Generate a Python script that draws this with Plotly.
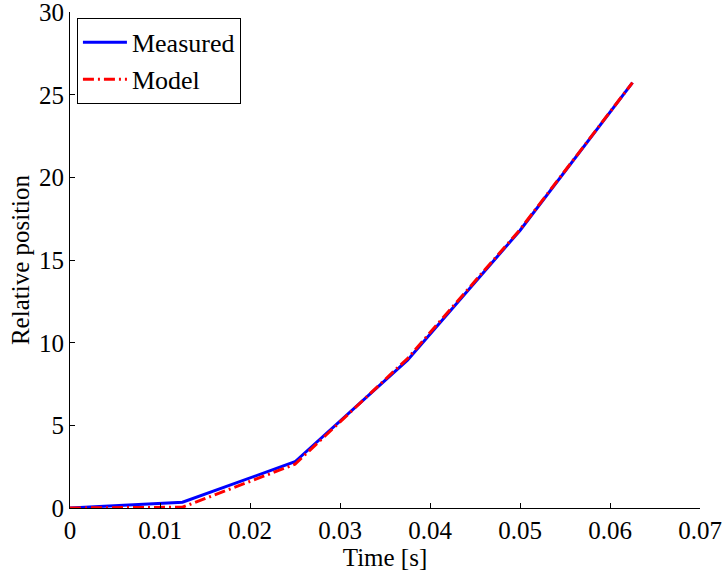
import plotly.graph_objects as go

# Sample times [s]
time_s = [0.0, 0.0125, 0.025, 0.0375, 0.05, 0.0625]
# Relative position: measured vs. model
measured = [0.0, 0.35, 2.8, 8.95, 16.8, 25.75]
model = [0.0, 0.05, 2.65, 9.05, 16.85, 25.75]

x_ticks = [0, 0.01, 0.02, 0.03, 0.04, 0.05, 0.06, 0.07]
x_tick_text = ["0", "0.01", "0.02", "0.03", "0.04", "0.05", "0.06", "0.07"]
y_ticks = [0, 5, 10, 15, 20, 25, 30]
y_tick_text = ["0", "5", "10", "15", "20", "25", "30"]

serif = "Liberation Serif, serif"

fig = go.Figure()
fig.add_trace(go.Scatter(
    x=time_s, y=measured, mode="lines", name="Measured",
    line=dict(color="#0000ff", width=3),
))
fig.add_trace(go.Scatter(
    x=time_s, y=model, mode="lines", name="Model",
    line=dict(color="#ff0000", width=3, dash="11px,4px,2px,4px"),
))

axis_common = dict(
    showgrid=False, zeroline=False, showline=True, linecolor="black",
    linewidth=1, ticks="inside", ticklen=5, tickcolor="black",
    tickfont=dict(family=serif, size=25, color="black"),
    mirror=False, tickmode="array", ticklabeloverflow="allow",
)

fig.update_layout(
    width=725, height=571,
    margin=dict(l=70, r=25, t=12, b=63, autoexpand=False),
    paper_bgcolor="white", plot_bgcolor="white",
    font=dict(family=serif, size=25, color="black"),
    xaxis=dict(
        range=[0, 0.07], tickvals=x_ticks, ticktext=x_tick_text,
        title=dict(text="Time [s]", standoff=0,
                   font=dict(family=serif, size=25)),
        automargin=False,
        **axis_common,
    ),
    yaxis=dict(
        range=[0, 30.02], tickvals=y_ticks, ticktext=y_tick_text,
        title=dict(text="Relative position", standoff=2,
                   font=dict(family=serif, size=25)),
        automargin=False,
        **axis_common,
    ),
    legend=dict(
        x=0.011, y=0.988, xanchor="left", yanchor="top",
        bordercolor="black", borderwidth=1, bgcolor="white",
        font=dict(family=serif, size=26, color="black"),
        itemwidth=44, tracegroupgap=0,
    ),
    showlegend=True,
)

fig.write_html("out.html")
